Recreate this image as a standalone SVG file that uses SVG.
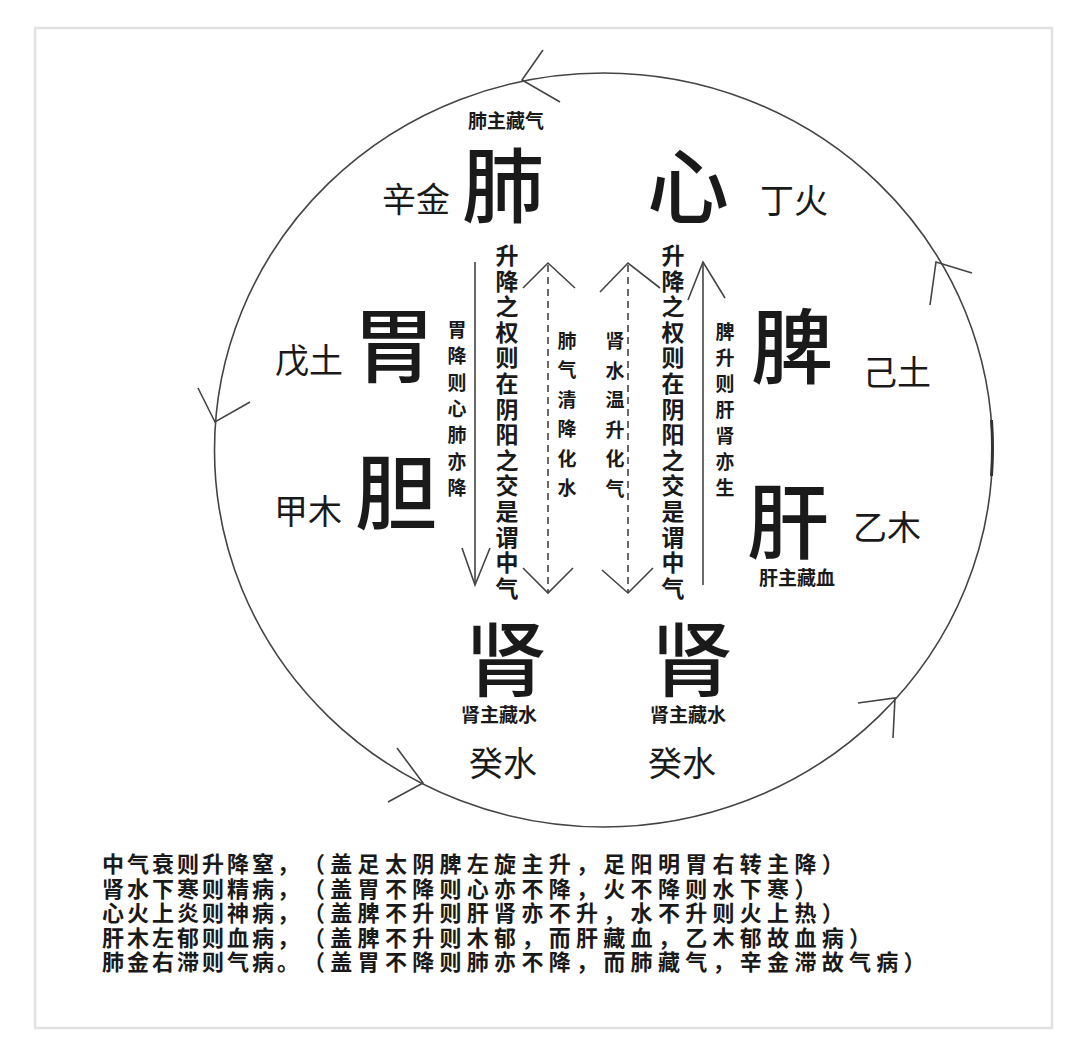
<svg xmlns="http://www.w3.org/2000/svg" width="1080" height="1047" viewBox="0 0 1080 1047">
<style>
text{font-family:"Noto Sans CJK SC","Noto Sans CJK TC",sans-serif;fill:#1a1a1a}
.big{font-size:82px;font-weight:500;text-anchor:middle}
.mid{font-size:34px;text-anchor:middle}
.sm{font-size:19px;font-weight:700;text-anchor:middle}
.vcol{font-size:19px;font-weight:700;text-anchor:middle}
.vbig{font-size:23px;font-weight:700;text-anchor:middle}
.note{font-size:22px;font-weight:700}
.p1{letter-spacing:3px}
.p2{letter-spacing:5.3px}
.ln{fill:none;stroke:#444;stroke-width:1.6}
.dash{fill:none;stroke:#444;stroke-width:1.6;stroke-dasharray:7 5}
</style>
<rect x="0" y="0" width="1080" height="1047" fill="#ffffff"/>
<rect x="35" y="28" width="1017" height="1000" fill="none" stroke="#e2e2e2" stroke-width="2.5"/>

<g id="connectors">
  <ellipse class="ln" cx="603.5" cy="450" rx="389" ry="377"/>
  <path d="M991.5 420 Q993.5 447 991.5 476" fill="none" stroke="#333" stroke-width="3"/>
  <polyline class="ln" points="543,50 522,80 560,102"/>
  <polyline class="ln" points="198,388 215,422 250,402"/>
  <polyline class="ln" points="397,748 423,783 388,802"/>
  <polyline class="ln" points="858,703 895,698 893,738"/>
  <polyline class="ln" points="930,305 936,262 972,273"/>
  <line class="ln" x1="475" y1="262" x2="475" y2="585"/>
  <polyline class="ln" points="462,548 475,585 490,548"/>
  <line class="dash" x1="548" y1="265" x2="548" y2="592"/>
  <polyline class="ln" points="523,288 548,263 575,288"/>
  <polyline class="ln" points="523,568 548,593 573,568"/>
  <line class="dash" x1="628" y1="265" x2="628" y2="592"/>
  <polyline class="ln" points="600,292 628,263 660,288"/>
  <polyline class="ln" points="602,570 628,593 653,568"/>
  <line class="ln" x1="703" y1="262" x2="703" y2="585"/>
  <polyline class="ln" points="688,300 703,262 725,298"/>
</g>

<g id="fei">
  <text class="sm" x="506" y="128">肺主藏气</text>
  <text class="big" x="503" y="216">肺</text>
  <text class="mid" x="416" y="212">辛金</text>
</g>
<g id="xin">
  <text class="big" x="688" y="217">心</text>
  <text class="mid" x="794" y="213">丁火</text>
</g>
<g id="wei">
  <text class="big" x="394" y="376">胃</text>
  <text class="mid" x="309" y="373">戊土</text>
</g>
<g id="dan">
  <text class="big" x="396" y="523">胆</text>
  <text class="mid" x="308" y="524">甲木</text>
</g>
<g id="pi">
  <text class="big" x="792" y="377">脾</text>
  <text class="mid" x="897" y="385">己土</text>
</g>
<g id="gan">
  <text class="big" x="788" y="552">肝</text>
  <text class="mid" x="887" y="540">乙木</text>
  <text class="sm" x="797" y="585">肝主藏血</text>
</g>
<g id="shen-left">
  <text class="big" x="506" y="690">肾</text>
  <text class="sm" x="499" y="722">肾主藏水</text>
  <text class="mid" x="503" y="776">癸水</text>
</g>
<g id="shen-right">
  <text class="big" x="692" y="690">肾</text>
  <text class="sm" x="688" y="722">肾主藏水</text>
  <text class="mid" x="682" y="776">癸水</text>
</g>

<g id="label-wei-jiang">
  <text class="vcol" x="457" y="337"><tspan x="457">胃</tspan><tspan x="457" dy="26.3">降</tspan><tspan x="457" dy="26.3">则</tspan><tspan x="457" dy="26.3">心</tspan><tspan x="457" dy="26.3">肺</tspan><tspan x="457" dy="26.3">亦</tspan><tspan x="457" dy="26.3">降</tspan></text>
</g>
<g id="label-zhongqi-left">
  <text class="vbig" x="507" y="264"><tspan x="507">升</tspan><tspan x="507" dy="25.6">降</tspan><tspan x="507" dy="25.6">之</tspan><tspan x="507" dy="25.6">权</tspan><tspan x="507" dy="25.6">则</tspan><tspan x="507" dy="25.6">在</tspan><tspan x="507" dy="25.6">阴</tspan><tspan x="507" dy="25.6">阳</tspan><tspan x="507" dy="25.6">之</tspan><tspan x="507" dy="25.6">交</tspan><tspan x="507" dy="25.6">是</tspan><tspan x="507" dy="25.6">谓</tspan><tspan x="507" dy="25.6">中</tspan><tspan x="507" dy="25.6">气</tspan></text>
</g>
<g id="label-feiqi">
  <text class="vcol" x="567" y="348"><tspan x="567">肺</tspan><tspan x="567" dy="29.4">气</tspan><tspan x="567" dy="29.4">清</tspan><tspan x="567" dy="29.4">降</tspan><tspan x="567" dy="29.4">化</tspan><tspan x="567" dy="29.4">水</tspan></text>
</g>
<g id="label-shenshui">
  <text class="vcol" x="615" y="348"><tspan x="615">肾</tspan><tspan x="615" dy="29.6">水</tspan><tspan x="615" dy="29.6">温</tspan><tspan x="615" dy="29.6">升</tspan><tspan x="615" dy="29.6">化</tspan><tspan x="615" dy="29.6">气</tspan></text>
</g>
<g id="label-zhongqi-right">
  <text class="vbig" x="673" y="264"><tspan x="673">升</tspan><tspan x="673" dy="25.6">降</tspan><tspan x="673" dy="25.6">之</tspan><tspan x="673" dy="25.6">权</tspan><tspan x="673" dy="25.6">则</tspan><tspan x="673" dy="25.6">在</tspan><tspan x="673" dy="25.6">阴</tspan><tspan x="673" dy="25.6">阳</tspan><tspan x="673" dy="25.6">之</tspan><tspan x="673" dy="25.6">交</tspan><tspan x="673" dy="25.6">是</tspan><tspan x="673" dy="25.6">谓</tspan><tspan x="673" dy="25.6">中</tspan><tspan x="673" dy="25.6">气</tspan></text>
</g>
<g id="label-pi-sheng">
  <text class="vcol" x="725" y="339"><tspan x="725">脾</tspan><tspan x="725" dy="26">升</tspan><tspan x="725" dy="26">则</tspan><tspan x="725" dy="26">肝</tspan><tspan x="725" dy="26">肾</tspan><tspan x="725" dy="26">亦</tspan><tspan x="725" dy="26">生</tspan></text>
</g>

<g id="notes">
  <text class="note" y="872"><tspan class="p1" x="102">中气衰则升降窒，</tspan><tspan class="p2" x="303">（盖足太阴脾左旋主升，足阳明胃右转主降）</tspan></text>
  <text class="note" y="896.5"><tspan class="p1" x="102">肾水下寒则精病，</tspan><tspan class="p2" x="303">（盖胃不降则心亦不降，火不降则水下寒）</tspan></text>
  <text class="note" y="921"><tspan class="p1" x="102">心火上炎则神病，</tspan><tspan class="p2" x="303">（盖脾不升则肝肾亦不升，水不升则火上热）</tspan></text>
  <text class="note" y="945.5"><tspan class="p1" x="102">肝木左郁则血病，</tspan><tspan class="p2" x="303">（盖脾不升则木郁，而肝藏血，乙木郁故血病）</tspan></text>
  <text class="note" y="970"><tspan class="p1" x="102">肺金右滞则气病。</tspan><tspan class="p2" x="303">（盖胃不降则肺亦不降，而肺藏气，辛金滞故气病）</tspan></text>
</g>
</svg>
